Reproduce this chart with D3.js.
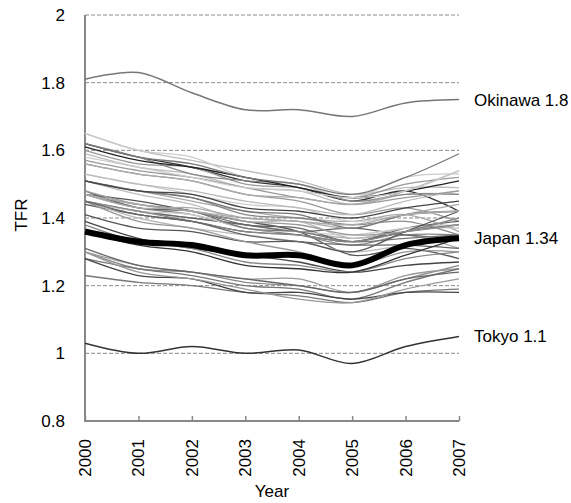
<!DOCTYPE html>
<html>
<head>
<meta charset="utf-8">
<script src="https://cdn.jsdelivr.net/npm/d3@7"></script>
<style>
  html, body { margin: 0; padding: 0; background: #fff; }
  svg { display: block; font-family: "Liberation Sans", Arial, sans-serif; }
</style>
</head>
<body>
<svg id="chart" width="571" height="503"></svg>
<script>
// Total fertility rate by prefecture, 2000–2007
const years = [2000, 2001, 2002, 2003, 2004, 2005, 2006, 2007];
const yTicks = [0.8, 1, 1.2, 1.4, 1.6, 1.8, 2];

const japan    = [1.36, 1.33, 1.32, 1.29, 1.29, 1.26, 1.32, 1.34];
const okinawa  = [1.81, 1.83, 1.77, 1.72, 1.72, 1.70, 1.74, 1.75];
const tokyo    = [1.03, 1.00, 1.02, 1.00, 1.01, 0.97, 1.02, 1.05];

const prefNames = [
  "Hokkaido","Aomori","Iwate","Miyagi","Akita","Yamagata","Fukushima","Ibaraki",
  "Tochigi","Gunma","Saitama","Chiba","Kanagawa","Niigata","Toyama","Ishikawa",
  "Fukui","Yamanashi","Nagano","Gifu","Shizuoka","Aichi","Mie","Shiga","Kyoto",
  "Osaka","Hyogo","Nara","Wakayama","Tottori","Shimane","Okayama","Hiroshima",
  "Yamaguchi","Tokushima","Kagawa","Ehime","Kochi","Fukuoka","Saga","Nagasaki",
  "Kumamoto","Oita","Miyazaki","Kagoshima"
];
const prefValues = [
  [1.23,1.21,1.20,1.18,1.17,1.15,1.18,1.19],
  [1.47,1.45,1.42,1.39,1.36,1.29,1.31,1.28],
  [1.56,1.53,1.51,1.47,1.45,1.41,1.43,1.39],
  [1.39,1.34,1.31,1.29,1.27,1.24,1.26,1.27],
  [1.45,1.42,1.40,1.38,1.36,1.34,1.35,1.31],
  [1.62,1.58,1.55,1.51,1.49,1.45,1.48,1.42],
  [1.65,1.60,1.57,1.54,1.51,1.47,1.49,1.49],
  [1.47,1.43,1.41,1.37,1.35,1.32,1.35,1.35],
  [1.48,1.43,1.42,1.38,1.37,1.33,1.37,1.39],
  [1.51,1.48,1.45,1.42,1.40,1.39,1.41,1.36],
  [1.30,1.25,1.24,1.21,1.20,1.18,1.22,1.26],
  [1.30,1.26,1.24,1.22,1.22,1.18,1.23,1.25],
  [1.28,1.25,1.23,1.20,1.19,1.16,1.21,1.25],
  [1.51,1.47,1.44,1.39,1.39,1.34,1.37,1.37],
  [1.45,1.42,1.40,1.38,1.36,1.37,1.35,1.34],
  [1.45,1.42,1.41,1.37,1.36,1.35,1.37,1.38],
  [1.60,1.56,1.55,1.50,1.49,1.46,1.50,1.52],
  [1.51,1.48,1.46,1.41,1.40,1.38,1.39,1.35],
  [1.59,1.55,1.53,1.49,1.48,1.44,1.47,1.47],
  [1.47,1.44,1.42,1.37,1.36,1.33,1.34,1.35],
  [1.47,1.43,1.43,1.40,1.39,1.37,1.41,1.44],
  [1.44,1.41,1.39,1.36,1.35,1.33,1.36,1.38],
  [1.48,1.44,1.42,1.39,1.38,1.35,1.36,1.38],
  [1.53,1.50,1.47,1.44,1.43,1.39,1.41,1.42],
  [1.28,1.23,1.22,1.18,1.18,1.16,1.18,1.18],
  [1.31,1.26,1.24,1.22,1.20,1.18,1.22,1.24],
  [1.38,1.33,1.31,1.27,1.26,1.24,1.28,1.30],
  [1.30,1.24,1.22,1.19,1.16,1.15,1.19,1.22],
  [1.45,1.40,1.37,1.35,1.33,1.30,1.32,1.34],
  [1.62,1.58,1.53,1.51,1.50,1.45,1.47,1.47],
  [1.65,1.60,1.58,1.52,1.50,1.46,1.52,1.53],
  [1.51,1.48,1.46,1.42,1.41,1.37,1.41,1.42],
  [1.41,1.37,1.36,1.33,1.33,1.30,1.36,1.42],
  [1.47,1.44,1.42,1.40,1.39,1.38,1.41,1.42],
  [1.45,1.39,1.37,1.33,1.30,1.26,1.30,1.30],
  [1.53,1.50,1.48,1.45,1.43,1.41,1.45,1.48],
  [1.45,1.42,1.39,1.36,1.35,1.33,1.36,1.40],
  [1.45,1.41,1.39,1.35,1.33,1.32,1.32,1.31],
  [1.36,1.32,1.30,1.26,1.25,1.24,1.29,1.34],
  [1.61,1.57,1.55,1.52,1.49,1.46,1.48,1.51],
  [1.57,1.54,1.52,1.49,1.46,1.44,1.46,1.48],
  [1.56,1.53,1.51,1.47,1.46,1.44,1.48,1.54],
  [1.51,1.48,1.47,1.43,1.42,1.40,1.43,1.45],
  [1.62,1.58,1.56,1.52,1.50,1.47,1.52,1.59],
  [1.58,1.55,1.52,1.49,1.48,1.46,1.48,1.54]
];
const prefShades = [
  "#777","#555","#999","#444","#aaa","#333","#bbb","#888","#666","#aaa",
  "#888","#999","#777","#bbb","#666","#ccc","#999","#888","#bbb","#777",
  "#aaa","#555","#999","#ccc","#444","#666","#888","#999","#bbb","#888",
  "#ccc","#777","#555","#aaa","#999","#bbb","#888","#666","#333","#222",
  "#999","#aaa","#444","#777","#ccc"
];

const svg = d3.select("#chart");
const plotLeft = 85, plotRight = 459, plotTop = 15, plotBottom = 421;

const x = d3.scaleLinear().domain([2000, 2007]).range([plotLeft, plotRight]);
const y = d3.scaleLinear().domain([0.8, 2]).range([plotBottom, plotTop]);

// dashed horizontal gridlines
svg.append("g")
  .selectAll("line")
  .data(yTicks.filter(d => d > 0.8))
  .join("line")
  .attr("x1", plotLeft).attr("x2", plotRight)
  .attr("y1", d => y(d)).attr("y2", d => y(d))
  .attr("stroke", "#8a8a8a")
  .attr("stroke-width", 1)
  .attr("stroke-dasharray", "4,2");

// y axis
const yAxis = d3.axisLeft(y).tickValues(yTicks).tickSize(0).tickPadding(20)
  .tickFormat(d => String(+d.toFixed(1)));
const gy = svg.append("g").attr("transform", `translate(${plotLeft},0)`).call(yAxis);
gy.select(".domain").remove();
gy.selectAll("text").attr("font-size", 17).attr("fill", "#000")
  .attr("font-family", "'Liberation Sans', Arial, sans-serif");

// x axis with inward ticks
const xAxis = d3.axisTop(x).tickValues(years).tickSize(5).tickFormat("");
const gx = svg.append("g").attr("transform", `translate(0,${plotBottom})`).call(xAxis);
gx.select(".domain").remove();
gx.selectAll(".tick line").attr("stroke", "#888").attr("stroke-width", 1.5);

svg.append("g")
  .selectAll("text")
  .data(years)
  .join("text")
  .attr("transform", d => `translate(${x(d)},439) rotate(-90)`)
  .attr("dy", "0.35em")
  .attr("text-anchor", "end")
  .attr("font-size", 17)
  .text(d => d);

// axis lines
svg.append("line").attr("x1", plotLeft).attr("x2", plotLeft).attr("y1", plotTop).attr("y2", plotBottom + 1)
  .attr("stroke", "#888").attr("stroke-width", 2);
svg.append("line").attr("x1", plotLeft - 1).attr("x2", plotRight).attr("y1", plotBottom).attr("y2", plotBottom)
  .attr("stroke", "#888").attr("stroke-width", 2);

const line = d3.line()
  .x((d, i) => x(years[i]))
  .y(d => y(d))
  .curve(d3.curveCardinal.tension(0));

// prefecture lines
svg.append("g")
  .selectAll("path")
  .data(prefValues)
  .join("path")
  .attr("d", line)
  .attr("fill", "none")
  .attr("stroke", (d, i) => prefShades[i])
  .attr("stroke-width", 1.3);

svg.append("path").datum(okinawa).attr("d", line)
  .attr("fill", "none").attr("stroke", "#777").attr("stroke-width", 1.5);
svg.append("path").datum(tokyo).attr("d", line)
  .attr("fill", "none").attr("stroke", "#333").attr("stroke-width", 1.5);
svg.append("path").datum(japan).attr("d", line)
  .attr("fill", "none").attr("stroke", "#000").attr("stroke-width", 6);

// end labels
const endLabels = [
  { name: "Okinawa", values: okinawa, fmt: d3.format(".1f") },
  { name: "Japan", values: japan, fmt: d3.format(".2f") },
  { name: "Tokyo", values: tokyo, fmt: d3.format(".1f") }
];
svg.append("g")
  .selectAll("text")
  .data(endLabels)
  .join("text")
  .attr("x", plotRight + 15)
  .attr("y", d => y(d.values[d.values.length - 1]))
  .attr("dy", "0.35em")
  .attr("font-size", 17)
  .text(d => `${d.name} ${d.fmt(d.values[d.values.length - 1])}`);

// axis titles
svg.append("text")
  .attr("x", 272).attr("y", 497)
  .attr("text-anchor", "middle")
  .attr("font-size", 17)
  .text("Year");
svg.append("text")
  .attr("transform", "translate(27,215) rotate(-90)")
  .attr("text-anchor", "middle")
  .attr("font-size", 17)
  .text("TFR");
</script>
</body>
</html>
